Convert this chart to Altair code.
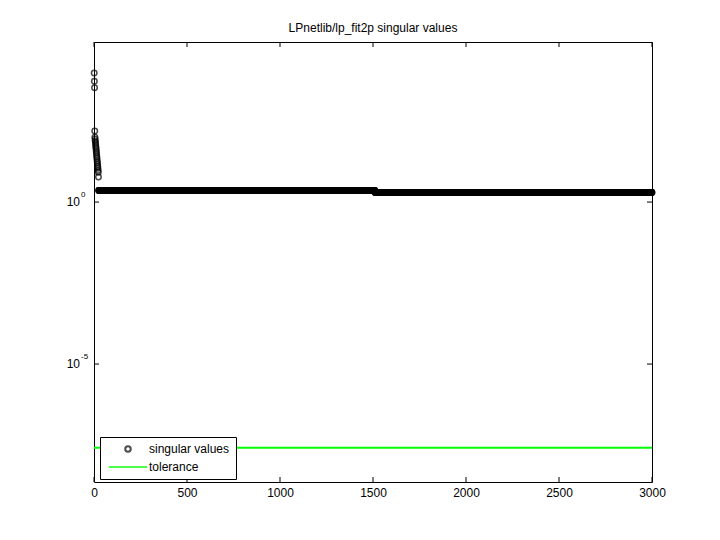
import altair as alt
import pandas as pd

# ---- data ----
top_values = [9550, 5370, 3390]
cluster_values = [155, 100, 87, 76, 66, 58, 50, 44, 38, 33, 29, 25, 22, 19,
                  16.6, 14.5, 12.6, 11, 9.5, 8.3, 5.9]
plateau_levels = [2.26, 1.96]
plateau_last_index = [1510, 3000]
tolerance = 2.63e-8
x_ticks = [0, 500, 1000, 1500, 2000, 2500, 3000]
y_ticks = [1.0, 1e-5]
y_tick_base = ["10", "10"]
y_tick_exponents = ["0", "-5"]
series_names = ["singular values", "tolerance"]

sv = top_values + cluster_values
for level, last in zip(plateau_levels, plateau_last_index):
    sv = sv + [level] * (last - len(sv))

df = pd.DataFrame({"index": list(range(1, len(sv) + 1)), "sv": sv,
                   "series": series_names[0]})
tol_df = pd.DataFrame({"tol": [tolerance], "series": [series_names[1]]})
xt_df = pd.DataFrame({"t": x_ticks})
yt_df = pd.DataFrame({"v": y_ticks, "base": y_tick_base, "exp": y_tick_exponents})

FONT = "Liberation Sans"
W, H = 558, 440

x_scale = alt.Scale(domain=[0, 3000], nice=False, zero=False)
y_scale = alt.Scale(type="log", domain=[10 ** -8.64, 10 ** 4.94], nice=False)
color_scale = alt.Scale(domain=series_names, range=["black", "#00ff00"])
shape_scale = alt.Scale(domain=series_names, range=["circle", "M-7,0H7"])

x_axis = alt.Axis(values=x_ticks, ticks=False, domain=False, grid=False,
                  labelFont=FONT, labelFontSize=12, labelColor="black",
                  labelPadding=5, labelFlush=False, title=None, format="d")

legend = alt.Legend(title=None, orient="none", legendX=6, legendY=395,
                    strokeColor="black", fillColor="white", padding=6,
                    symbolStrokeWidth=2, symbolSize=30, symbolOffset=16,
                    labelOffset=15, rowPadding=5, labelFont=FONT,
                    labelFontSize=12, labelColor="black")

points = alt.Chart(df).mark_point(filled=False, strokeWidth=1.5, size=30).encode(
    x=alt.X("index:Q", scale=x_scale, axis=x_axis),
    y=alt.Y("sv:Q", scale=y_scale, axis=None),
    color=alt.Color("series:N", scale=color_scale, legend=legend),
    shape=alt.Shape("series:N", scale=shape_scale, legend=legend),
)

tol_line = alt.Chart(tol_df).mark_rule(strokeWidth=2).encode(
    y=alt.Y("tol:Q", scale=y_scale, axis=None),
    color=alt.Color("series:N", scale=color_scale, legend=legend),
)

xt_bottom = alt.Chart(xt_df).mark_rule(color="black").encode(
    x=alt.X("t:Q", scale=x_scale, axis=x_axis), y=alt.value(H), y2=alt.value(H - 5))
xt_top = alt.Chart(xt_df).mark_rule(color="black").encode(
    x=alt.X("t:Q", scale=x_scale, axis=x_axis), y=alt.value(0), y2=alt.value(5))
yt_left = alt.Chart(yt_df).mark_rule(color="black").encode(
    y=alt.Y("v:Q", scale=y_scale, axis=None), x=alt.value(0), x2=alt.value(5))
yt_right = alt.Chart(yt_df).mark_rule(color="black").encode(
    y=alt.Y("v:Q", scale=y_scale, axis=None), x=alt.value(W), x2=alt.value(W - 5))

y_base = alt.Chart(yt_df).mark_text(align="right", baseline="middle", font=FONT,
                                    fontSize=12, color="black").encode(
    y=alt.Y("v:Q", scale=y_scale, axis=None), x=alt.value(-14), text="base:N")
y_exp = alt.Chart(yt_df).mark_text(align="left", baseline="middle", font=FONT,
                                   fontSize=8, dy=-7, color="black").encode(
    y=alt.Y("v:Q", scale=y_scale, axis=None), x=alt.value(-13), text="exp:N")

chart = alt.layer(
    tol_line, points, xt_bottom, xt_top, yt_left, yt_right, y_base, y_exp
).properties(
    width=W, height=H,
    autosize=alt.AutoSizeParams(type="none"),
    padding={"left": 86, "top": 34, "right": 60, "bottom": 50},
    title=alt.Title("LPnetlib/lp_fit2p singular values", font=FONT, fontSize=12,
                    fontWeight="normal", color="black", offset=7, anchor="middle"),
    background="white",
).configure_view(stroke="black", strokeWidth=1)

chart.save("out.html", embed_options={"renderer": "svg", "actions": False})
